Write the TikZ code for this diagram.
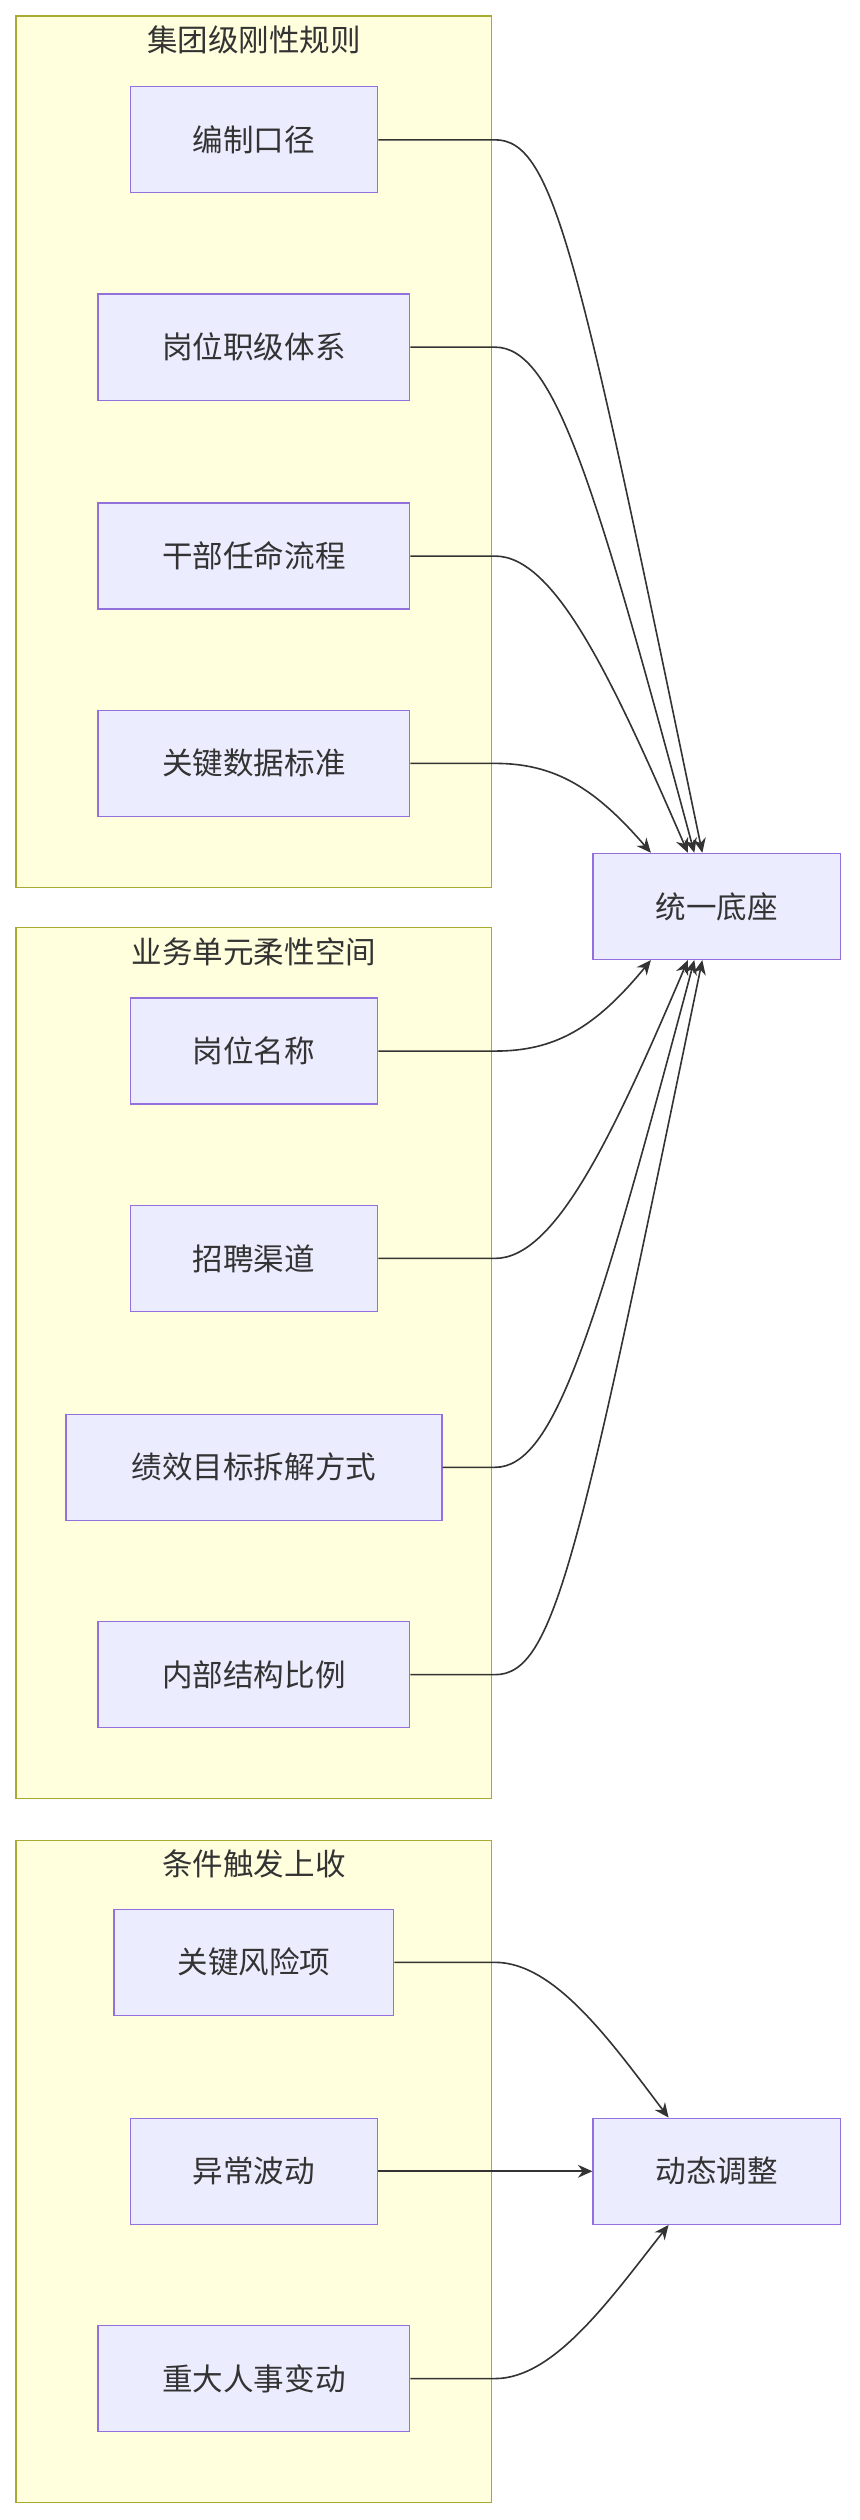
\documentclass[tikz,border=0pt]{standalone}
\usepackage{fontspec}
\setmainfont{Noto Sans CJK SC}
\usetikzlibrary{arrows.meta}
\definecolor{boxfill}{HTML}{ECECFF}
\definecolor{boxline}{HTML}{9370DB}
\definecolor{grpfill}{HTML}{FFFFDE}
\definecolor{grpline}{HTML}{AAAA33}
\definecolor{edgecol}{HTML}{333333}
\tikzset{
  box/.style={draw=boxline,fill=boxfill,line width=0.8pt,minimum height=66pt,inner sep=0pt,
    font=\fontsize{19}{22}\selectfont,text=edgecol},
  grp/.style={draw=grpline,fill=grpfill,line width=0.8pt},
  grptitle/.style={font=\fontsize{19}{22}\selectfont,text=edgecol},
  link/.style={draw=edgecol,line width=1pt,-{Stealth[length=9pt,width=8pt]}}
}
\begin{document}
\begin{tikzpicture}[x=1pt,y=-1pt]
    \useasboundingbox (0,0) rectangle (535,1568);
    % groups
    \draw[grp] (10,10) rectangle (306,552);
    \node[grptitle] (g1) at (158,25) {集团级刚性规则};
    \draw[grp] (10,577) rectangle (306,1119);
    \node[grptitle] (g2) at (158,592) {业务单元柔性空间};
    \draw[grp] (10,1145) rectangle (306,1557);
    \node[grptitle] (g3) at (158,1160) {条件触发上收};
    % nodes
    \node[box,minimum width=154pt] (bz) at (158,87) {编制口径};
    \node[box,minimum width=194pt] (gw) at (158,216) {岗位职级体系};
    \node[box,minimum width=194pt] (gb) at (158,346) {干部任命流程};
    \node[box,minimum width=194pt] (sj) at (158,475) {关键数据标准};
    \node[box,minimum width=154pt] (mc) at (158,654) {岗位名称};
    \node[box,minimum width=154pt] (zp) at (158,783) {招聘渠道};
    \node[box,minimum width=234pt] (jx) at (158,913) {绩效目标拆解方式};
    \node[box,minimum width=194pt] (jg) at (158,1042) {内部结构比例};
    \node[box,minimum width=174pt] (fx) at (158,1221) {关键风险项};
    \node[box,minimum width=154pt] (bd) at (158,1351) {异常波动};
    \node[box,minimum width=194pt] (rs) at (158,1480) {重大人事变动};
    \node[box,minimum width=154pt] (base) at (446,564) {统一底座};
    \node[box,minimum width=154pt] (adj) at (446,1351) {动态调整};
    % links
    \draw[link] (bz.east) -- (308,87) .. controls (345,87) and (360,160) .. ([xshift=-9pt]base.north);
    \draw[link] (gw.east) -- (308,216) .. controls (345,216) and (370,300) .. ([xshift=-14pt]base.north);
    \draw[link] (gb.east) -- (308,346) .. controls (345,346) and (380,420) .. ([xshift=-18pt]base.north);
    \draw[link] (sj.east) -- (308,475) .. controls (345,475) and (370,490) .. ([xshift=-41pt]base.north);
    \draw[link] (mc.east) -- (308,654) .. controls (345,654) and (370,640) .. ([xshift=-41pt]base.south);
    \draw[link] (zp.east) -- (308,783) .. controls (345,783) and (380,710) .. ([xshift=-18pt]base.south);
    \draw[link] (jx.east) -- (308,913) .. controls (345,913) and (370,830) .. ([xshift=-14pt]base.south);
    \draw[link] (jg.east) -- (308,1042) .. controls (345,1042) and (360,970) .. ([xshift=-9pt]base.south);
    \draw[link] (fx.east) -- (308,1221) .. controls (345,1221) and (380,1270) .. ([xshift=-30pt]adj.north);
    \draw[link] (bd.east) -- (adj.west);
    \draw[link] (rs.east) -- (308,1480) .. controls (345,1480) and (380,1430) .. ([xshift=-30pt]adj.south);
\end{tikzpicture}
\end{document}
